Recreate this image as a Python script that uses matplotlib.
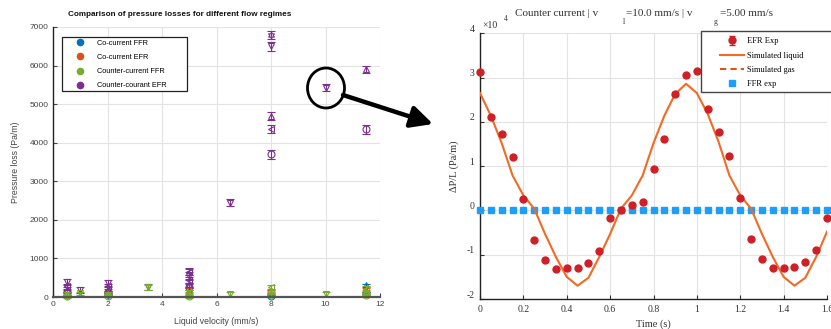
import matplotlib
matplotlib.use('Agg')
import matplotlib.pyplot as plt
import matplotlib.transforms as mtransforms
from matplotlib.lines import Line2D
from matplotlib.patches import Ellipse, Rectangle

# ---------------- Left chart data ----------------
xticks_left = [0, 2, 4, 6, 8, 10, 12]
yticks_left = [0, 1000, 2000, 3000, 4000, 5000, 6000, 7000]

series_names = ["Co-current FFR", "Co-current EFR", "Counter-current FFR", "Counter-courant EFR"]
series_colors = ["#0072BD", "#D95319", "#77AC30", "#7E2F8E"]

cocur_ffr_x = [0.5, 2, 5, 5, 8, 11.5, 11.5]
cocur_ffr_y = [30, 30, 650, 300, 20, 300, 100]
cocur_ffr_err = [30, 30, 80, 60, 30, 50, 40]
cocur_ffr_mk = ["v", "v", "<", "^", "o", "^", "o"]

cocur_efr_x = [0.5, 2, 5, 8, 11.5]
cocur_efr_y = [100, 120, 180, 120, 180]
cocur_efr_err = [40, 40, 50, 50, 60]
cocur_efr_mk = ["o", "o", "^", "o", "^"]

counter_ffr_x = [0.5, 0.5, 1, 2, 2, 3.5, 5, 5, 5, 6.5, 8, 8, 8, 10, 11.5, 11.5, 11.5]
counter_ffr_y = [20, 90, 100, 30, 90, 250, 20, 70, 130, 80, 60, 150, 260, 80, 40, 130, 220]
counter_ffr_err = [40, 40, 40, 40, 40, 60, 40, 40, 40, 50, 50, 60, 60, 50, 40, 50, 60]
counter_ffr_mk = ["o", "^", "v", "o", "^", "v", "o", "^", "<", "v", "o", "^", "<", "v", "o", "^", "<"]

counter_efr_x = [0.5, 0.5, 0.5, 0.5, 1, 2, 2, 2, 2, 3.5, 5, 5, 5, 5, 5, 6.5,
                 8, 8, 8, 8, 8, 10, 11.5, 11.5]
counter_efr_y = [120, 200, 280, 380, 180, 100, 200, 280, 360, 260, 250, 350, 450, 550, 650, 2450,
                 6800, 6500, 4700, 4350, 3700, 5430, 5900, 4350]
counter_efr_err = [60, 70, 70, 80, 70, 60, 70, 70, 80, 70, 80, 80, 80, 90, 90, 100,
                   100, 120, 100, 100, 110, 80, 100, 120]
counter_efr_mk = ["o", "^", "<", "v", "v", "o", "^", "<", "v", "v", "o", "^", "<", "v", "<", "v",
                  "star", "v", "^", "<", "o", "v", "^", "o"]

# ---------------- Right chart data (values in 1e4 Pa/m) ----------------
time_s = [0.00, 0.05, 0.10, 0.15, 0.20, 0.25, 0.30, 0.35, 0.40, 0.45, 0.50, 0.55, 0.60,
          0.65, 0.70, 0.75, 0.80, 0.85, 0.90, 0.95, 1.00, 1.05, 1.10, 1.15, 1.20, 1.25,
          1.30, 1.35, 1.40, 1.45, 1.50, 1.55, 1.60]
efr_exp = [3.13, 2.12, 1.72, 1.21, 0.26, -0.66, -1.11, -1.32, -1.31, -1.29, -1.19, -0.92, -0.18,
           0.00, 0.13, 0.19, 0.93, 1.62, 2.64, 3.05, 3.14, 2.28, 1.77, 1.24, 0.27, -0.64,
           -1.09, -1.30, -1.31, -1.28, -1.17, -0.90, -0.17]
efr_err = [0.03] * 33
sim_liquid = [2.65, 2.14, 1.52, 0.79, 0.34, 0.04, -0.53, -1.05, -1.50, -1.70, -1.52, -1.05, -0.53,
              0.04, 0.34, 0.79, 1.52, 2.14, 2.63, 2.86, 2.65, 2.18, 1.55, 0.79, 0.34, 0.04,
              -0.53, -1.05, -1.50, -1.70, -1.52, -1.05, -0.48]
ffr_exp = [0.008] * 33
xticks_right = [0, 0.2, 0.4, 0.6, 0.8, 1.0, 1.2, 1.4, 1.6]
xticklabels_right = ["0", "0.2", "0.4", "0.6", "0.8", "1", "1.2", "1.4", "1.6"]
yticks_right = [-2, -1, 0, 1, 2, 3, 4]

W, H = 831, 329
fig = plt.figure(figsize=(W / 100, H / 100), dpi=100)


def fx(px):
    return px / W


def fy(py):
    return 1 - py / H


sans = "Liberation Sans"
serif = "Liberation Serif"
grid_c = "#e3e3e3"

# ================= LEFT AXES =================
ax1 = fig.add_axes([fx(53), fy(297), (380 - 53) / W, (297 - 27) / H])
ax1.set_xlim(0, 12)
ax1.set_ylim(0, 7000)
ax1.set_xticks(xticks_left)
ax1.set_yticks(yticks_left)
ax1.grid(True, color=grid_c, lw=0.8)
ax1.set_axisbelow(True)
for s in ["top", "right"]:
    ax1.spines[s].set_visible(False)
ax1.spines["left"].set_color("#222222")
ax1.spines["left"].set_linewidth(1.0)
ax1.spines["bottom"].set_color("#555555")
ax1.spines["bottom"].set_linewidth(1.6)
ax1.tick_params(direction="in", length=3, width=0.8, labelsize=6, colors="#444444", pad=3)
for lab in ax1.get_xticklabels() + ax1.get_yticklabels():
    lab.set_family(sans)

star = (6, 1, 0)
all_series = [
    (cocur_ffr_x, cocur_ffr_y, cocur_ffr_err, cocur_ffr_mk, series_colors[0]),
    (cocur_efr_x, cocur_efr_y, cocur_efr_err, cocur_efr_mk, series_colors[1]),
    (counter_efr_x, counter_efr_y, counter_efr_err, counter_efr_mk, series_colors[3]),
    (counter_ffr_x, counter_ffr_y, counter_ffr_err, counter_ffr_mk, series_colors[2]),
]
for xs, ys, es, mks, c in all_series:
    for x, y, e, m in zip(xs, ys, es, mks):
        mk = star if m == "star" else m
        ax1.errorbar([x], [y], yerr=[e], fmt="none", ecolor=c, elinewidth=0.8,
                     capsize=2.8, capthick=0.8, clip_on=False)
        ax1.plot([x], [y], ls="none", marker=mk, mfc="none", mec=c, ms=5.0, mew=0.8,
                 clip_on=False)

fig.text(fx(180), fy(15), "Comparison of pressure losses for different flow regimes",
         ha="center", va="center", fontsize=5.9, fontweight="bold", family=sans, color="#111111")
ax1.set_xlabel("Liquid velocity (mm/s)", fontsize=6.2, family=sans, color="#444444", labelpad=6)
ax1.set_ylabel("Pressure loss (Pa/m)", fontsize=6.2, family=sans, color="#444444", labelpad=7)

# left legend
fig.add_artist(Rectangle((fx(62), fy(91)), (187 - 62) / W, (91 - 37) / H,
                         transform=fig.transFigure, fill=True, fc="white", ec="#222222", lw=0.9))
lh = [Line2D([], [], ls="", marker="o", ms=4.5, color=c) for c in series_colors]
leg1 = fig.legend(lh, series_names, loc="upper left", bbox_to_anchor=(fx(73), fy(36)),
                  frameon=False, handlelength=1.0, handletextpad=1.8,
                  borderpad=0, labelspacing=0.95, prop={"family": sans, "size": 5.3})

# ================= RIGHT AXES =================
ax2 = fig.add_axes([fx(480), fy(299), (827 - 480) / W, (299 - 33.3) / H])
ax2.set_xlim(0, 1.6)
ax2.set_ylim(-2, 4)
ax2.set_xticks(xticks_right)
ax2.set_xticklabels(xticklabels_right)
ax2.set_yticks(yticks_right)
ax2.set_yticklabels([str(v) for v in yticks_right])
ax2.grid(True, color=grid_c, lw=0.8)
ax2.set_axisbelow(True)
for s in ["top", "right"]:
    ax2.spines[s].set_visible(False)
for s in ["left", "bottom"]:
    ax2.spines[s].set_color("#222222")
    ax2.spines[s].set_linewidth(1.0)
ax2.tick_params(direction="in", length=3, width=0.8, labelsize=7, colors="#333333", pad=4)
for lab in ax2.get_xticklabels() + ax2.get_yticklabels():
    lab.set_family(serif)
off = mtransforms.ScaledTranslation(0, 5 / 100, fig.dpi_scale_trans)
for lab in ax2.get_yticklabels():
    lab.set_transform(lab.get_transform() + off)

ax2.plot(time_s, ffr_exp, ls="", marker="s", ms=4.0, color="#1A9FFF", mec="#1A9FFF",
         clip_on=False, zorder=3)
liq, = ax2.plot(time_s, sim_liquid, color="#F26A24", lw=1.5, zorder=4)
efr = ax2.errorbar(time_s, efr_exp, yerr=efr_err, fmt="o", ms=5, color="#CF2027",
                   ecolor="#CF2027", elinewidth=0.8, capsize=2, zorder=5, clip_on=False)

ax2.set_xlabel("Time (s)", fontsize=7.5, family=serif, color="#333333", labelpad=4)
ax2.set_ylabel("\u0394P/L (Pa/m)", fontsize=7.5, family=serif, color="#333333", labelpad=5)

# title pieces
tkw = dict(family=serif, color="#333333", va="center", ha="left")
fig.text(fx(515), fy(14), "Counter current | v", fontsize=8, **tkw)
fig.text(fx(623), fy(22), "l", fontsize=5.5, **tkw)
fig.text(fx(626.5), fy(14), "=10.0 mm/s | v", fontsize=8, **tkw)
fig.text(fx(714), fy(22), "g", fontsize=5.5, **tkw)
fig.text(fx(720.5), fy(14), "=5.00 mm/s", fontsize=8, **tkw)
# exponent
fig.text(fx(482), fy(25), "\u00d710", fontsize=7, **tkw)
fig.text(fx(504), fy(19), "4", fontsize=5.5, **tkw)

# right legend
fig.add_artist(Rectangle((fx(701), fy(92)), (845 - 701) / W, (92 - 31) / H,
                         transform=fig.transFigure, fill=True, fc="white", ec="#444444", lw=1.0,
                         clip_on=False))
gas_h = Line2D([], [], color="#E0541B", lw=1.5, ls=(0, (3, 2)))
ffr_h = Line2D([], [], ls="", marker="s", ms=4.0, color="#1A9FFF")
leg2 = fig.legend([efr, liq, gas_h, ffr_h], ["EFR Exp", "Simulated liquid", "Simulated gas", "FFR exp"],
                  loc="upper left", bbox_to_anchor=(fx(714), fy(31)), frameon=False,
                  handlelength=2.9, handletextpad=0.3, borderpad=0.25, labelspacing=0.75,
                  prop={"family": serif, "size": 6})

# circle and arrow annotations
fig.add_artist(Ellipse((fx(326), fy(88)), 37 / W, 40 / H, transform=fig.transFigure,
                       fill=False, ec="black", lw=2.0))
ax1.annotate("", xy=(fx(433), fy(124)), xytext=(fx(343), fy(95)),
             xycoords="figure fraction", textcoords="figure fraction",
             arrowprops=dict(arrowstyle="-|>,head_length=1.1,head_width=0.55", lw=3.2,
                             color="black", shrinkA=0, shrinkB=0, mutation_scale=12),
             annotation_clip=False)

fig.savefig("out.png", dpi=100)
